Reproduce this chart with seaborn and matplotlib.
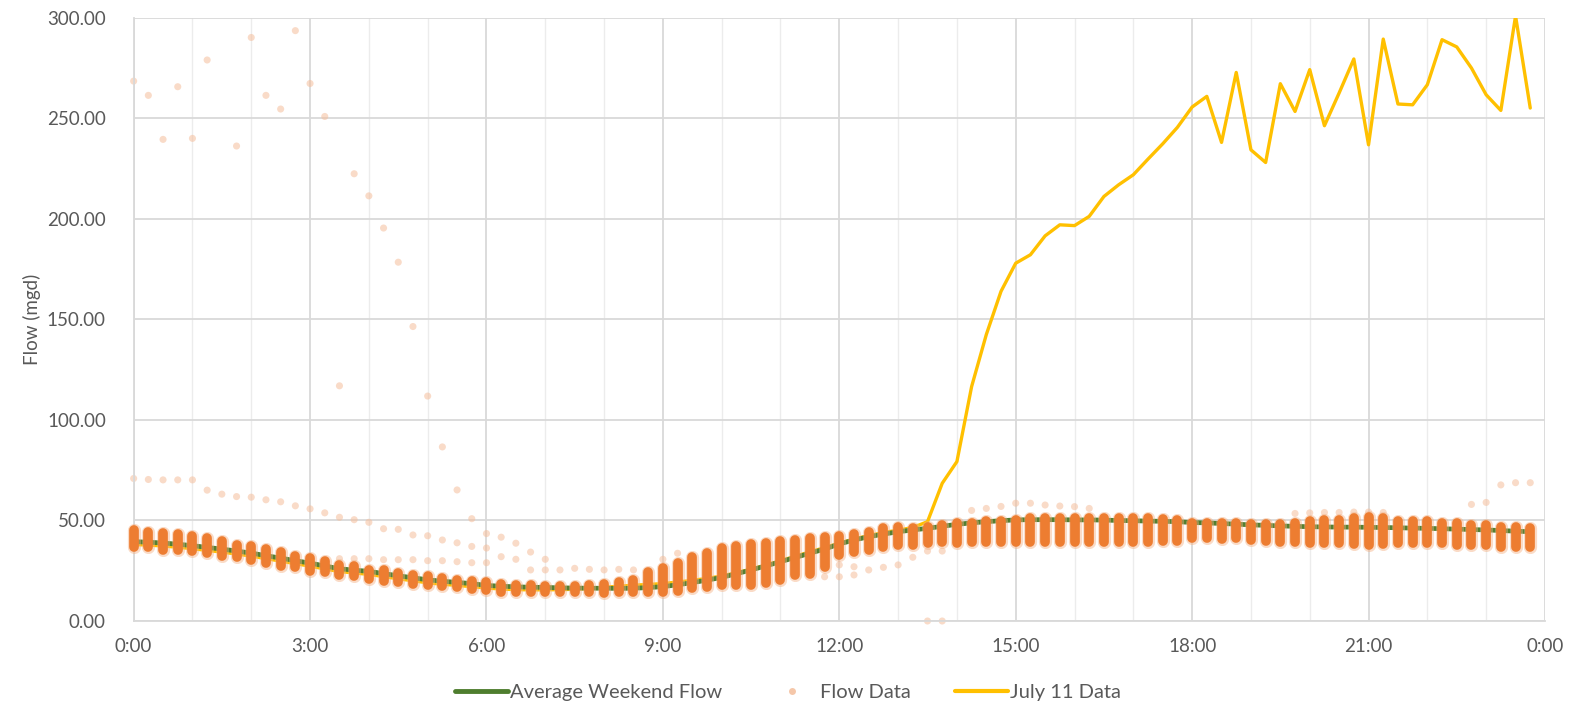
import numpy as np
import pandas as pd
import matplotlib
matplotlib.use("Agg")
import matplotlib.pyplot as plt
from matplotlib.lines import Line2D
import seaborn as sns

# ---------------- data ----------------
# 15-minute time slots (hours after midnight)
slot_hours = [i / 4 for i in range(96)]

x_tick_hours = [0, 3, 6, 9, 12, 15, 18, 21, 24]
x_tick_labels = ["0:00", "3:00", "6:00", "9:00", "12:00", "15:00", "18:00", "21:00", "0:00"]
y_ticks = [0, 50, 100, 150, 200, 250, 300]

avg_weekend_flow = [
    39.5, 39.2, 38.8, 38.2, 37.5, 36.6, 35.8, 34.8, 33.8, 32.5, 31.3, 30.0,
    28.8, 27.4, 26.0, 25.3, 24.7, 23.6, 22.5, 21.5, 20.5, 19.8, 19.2, 18.6,
    17.7, 17.3, 17.0, 16.8, 16.7, 16.5, 16.4, 16.3, 16.3, 16.2, 16.3, 16.6,
    17.1, 18.0, 19.1, 20.3, 21.7, 23.5, 25.4, 27.4, 29.5, 31.6, 33.7, 35.8,
    38.3, 40.3, 41.9, 43.2, 44.4, 45.3, 46.1, 47.1, 48.1, 48.8, 49.4, 49.9,
    50.3, 50.4, 50.4, 50.4, 50.3, 50.3, 50.2, 50.0, 49.9, 49.7, 49.6, 49.4,
    49.0, 48.8, 48.5, 48.2, 47.8, 47.6, 47.3, 47.1, 46.9, 46.8, 46.7, 46.7,
    46.6, 46.5, 46.4, 46.2, 46.1, 45.9, 45.7, 45.5, 45.3, 45.0, 44.7, 44.4,
]

july11_flow = [
    38.0, 37.8, 37.3, 36.7, 36.0, 35.1, 34.3, 33.3, 32.3, 31.0, 29.8, 28.5,
    27.3, 25.9, 24.6, 23.9, 23.2, 22.1, 21.0, 20.0, 19.0, 18.3, 17.7, 17.1,
    16.4, 15.9, 15.6, 15.5, 15.5, 15.6, 15.8, 16.2, 16.8, 17.3, 17.8, 18.2,
    18.6, 19.4, 20.2, 21.2, 22.4, 24.0, 25.8, 27.8, 30.0, 32.2, 34.4, 36.5,
    38.7, 40.8, 42.5, 44.0, 45.2, 46.5, 49.4, 68.5, 79.3, 116.6, 142.5, 164.0,
    178.0, 182.2, 191.6, 197.1, 196.7, 201.3, 211.2, 217.0, 222.0, 229.8, 237.4, 245.6,
    255.7, 261.0, 238.1, 272.9, 234.4, 228.1, 267.3, 253.5, 274.3, 246.4, 262.7, 279.6,
    236.9, 289.5, 257.2, 256.8, 266.8, 289.2, 285.6, 275.1, 261.8, 254.0, 301.0, 255.2,
]

# range of the bulk of the daily flow readings in each slot
flow_low = [
    36.9, 36.9, 35.4, 35.4, 34.7, 33.9, 32.2, 31.7, 30.1, 28.9, 27.6, 26.8,
    25.1, 24.3, 22.9, 22.6, 20.9, 20.1, 19.2, 18.4, 17.8, 17.5, 16.7, 15.9,
    15.4, 14.5, 14.2, 14.2, 14.2, 14.2, 14.2, 14.2, 13.7, 14.2, 14.2, 14.5,
    14.5, 14.9, 16.2, 17.0, 17.8, 17.8, 18.1, 19.1, 20.3, 22.8, 23.6, 27.0,
    32.8, 34.2, 35.2, 36.9, 37.7, 37.7, 38.6, 39.4, 38.6, 39.4, 39.4, 39.4,
    39.1, 39.4, 39.2, 39.4, 39.3, 39.4, 39.2, 39.4, 39.5, 39.4, 39.6, 40.0,
    41.1, 41.1, 40.8, 41.1, 40.2, 39.7, 39.4, 39.1, 38.6, 38.6, 38.6, 38.1,
    37.7, 38.1, 38.6, 38.6, 38.6, 38.6, 37.7, 37.7, 37.7, 36.9, 36.9, 36.9,
]
flow_high = [
    45.4, 44.2, 43.9, 43.1, 42.2, 41.4, 39.7, 38.0, 37.2, 35.6, 34.2, 32.2,
    31.1, 29.8, 28.1, 27.3, 25.6, 25.3, 23.9, 23.1, 22.3, 21.5, 20.6, 19.8,
    19.3, 18.4, 17.7, 17.7, 17.2, 17.2, 17.2, 17.7, 18.4, 19.3, 20.5, 24.3,
    26.3, 28.8, 31.6, 33.8, 36.3, 37.1, 38.3, 38.8, 39.6, 40.5, 41.3, 41.6,
    42.2, 43.2, 44.2, 46.5, 47.0, 46.2, 47.0, 47.9, 48.7, 48.7, 49.6, 49.6,
    50.4, 51.2, 51.2, 51.0, 51.2, 51.0, 51.2, 51.0, 51.1, 51.0, 50.8, 50.0,
    48.7, 48.7, 48.7, 48.7, 48.2, 48.2, 48.2, 48.7, 49.6, 50.4, 50.4, 51.2,
    51.5, 51.2, 49.6, 49.6, 49.6, 48.7, 48.7, 47.9, 47.9, 47.0, 47.0, 46.2,
]

# scattered (unusual) flow readings: time in hours, value in mgd
outlier_hours = [
    0, 0.25, 0.5, 0.75, 1.0, 1.25, 1.75, 2.0, 2.25, 2.5, 2.75, 3.0, 3.25, 3.5, 3.75,
    4.0, 4.25, 4.5, 4.75, 5.0, 5.25, 5.5, 5.75, 6.0,
    0, 0.25, 0.5, 0.75, 1.0, 1.25, 1.5, 1.75, 2.0, 2.25, 2.5, 2.75, 3.0, 3.25, 3.5,
    3.75, 4.0, 4.25, 4.5, 4.75, 5.0, 5.25, 5.5, 5.75, 6.0,
    3.5, 3.75, 4.0, 4.25, 4.5, 4.75, 5.0, 5.25, 5.5, 5.75, 6.0,
    6.25, 6.25, 6.5, 6.5, 6.75, 6.75, 7.0, 7.0, 7.25, 7.5, 7.75, 8.0, 8.25, 8.5, 9.0, 9.25,
    11.75, 12.0, 12.0, 12.25, 12.25, 12.5, 12.75, 13.0, 13.25, 13.5, 13.75, 13.5, 13.75,
    14.25, 14.5, 14.75, 15.0, 15.25, 15.5, 15.75, 16.0, 16.25,
    19.75, 20.0, 20.25, 20.5, 20.75, 21.0, 21.25,
    22.75, 23.0, 23.25, 23.5, 23.75,
]
outlier_values = [
    268.6, 261.5, 239.6, 265.8, 240.1, 279.1, 236.3, 290.3, 261.5, 254.7, 293.7, 267.4, 251.0, 117.0, 222.5,
    211.5, 195.5, 178.5, 146.5, 111.9, 86.6, 65.2, 50.9, 43.5,
    70.9, 70.4, 70.2, 70.2, 70.2, 65.1, 63.1, 61.9, 61.6, 60.3, 59.3, 57.3, 55.8, 53.8, 51.6,
    50.4, 49.1, 45.9, 45.6, 42.8, 42.4, 40.3, 38.9, 37.1, 36.3,
    31.0, 31.0, 31.0, 30.5, 30.5, 30.5, 30.0, 30.0, 29.5, 29.0, 29.0,
    41.7, 32.0, 38.7, 30.7, 34.3, 25.4, 30.7, 25.4, 25.4, 26.2, 25.7, 25.4, 25.7, 25.4, 30.7, 33.7,
    22.0, 27.9, 22.0, 27.0, 22.9, 25.4, 26.7, 27.9, 31.7, 34.8, 34.8, 0.0, 0.0,
    55.0, 56.0, 57.0, 58.6, 58.6, 57.7, 57.2, 56.9, 56.0,
    53.5, 53.8, 54.0, 54.0, 54.2, 54.2, 54.0,
    58.0, 59.0, 67.7, 68.8, 68.8,
]

# ---------------- style ----------------
sns.set_theme(style="white")
plt.rcParams["font.family"] = ["Lato", "DejaVu Sans"]
text_color = "#595959"
grid_major = "#D9D9D9"
grid_minor = "#ECECEC"
green = "#4E7D2E"
orange = "#ED7D31"
pale_orange = "#F4B183"
yellow = "#FFC000"

fig = plt.figure(figsize=(15.76, 7.19), dpi=100)
ax = fig.add_axes([0.0848, 0.1363, 0.8955, 0.8387])

df_line = pd.DataFrame({"hour": slot_hours, "avg": avg_weekend_flow, "july": july11_flow})
df_out = pd.DataFrame({"hour": outlier_hours, "flow": outlier_values})

# scattered flow readings
sns.scatterplot(data=df_out, x="hour", y="flow", ax=ax, color="#F5BE9C", alpha=0.55,
                s=26, edgecolor="none", zorder=2, legend=False, clip_on=False)

# July 11 data (under the average line and the readings)
sns.lineplot(data=df_line, x="hour", y="july", ax=ax, color=yellow, lw=2.4, zorder=3, legend=False)
# average weekend flow
sns.lineplot(data=df_line, x="hour", y="avg", ax=ax, color=green, lw=3.4, zorder=3.5, legend=False)

# dense flow-data columns (many overlapping daily readings per slot)
halo = ax.vlines(slot_hours, flow_low, flow_high, colors=pale_orange, lw=9.5, alpha=0.45, zorder=4)
halo.set_capstyle("round")
halo.set_clip_on(False)
core = ax.vlines(slot_hours, flow_low, flow_high, colors=orange, lw=7.0, zorder=4.5)
core.set_capstyle("round")
core.set_clip_on(False)

# ---------------- axes ----------------
ax.set_xlim(0, 24)
ax.set_ylim(0, 300)
ax.set_xticks(x_tick_hours)
ax.set_xticklabels(x_tick_labels)
ax.set_xticks(list(range(25)), minor=True)
ax.set_yticks(y_ticks)
ax.set_yticklabels([f"{v:.2f}" for v in y_ticks])
ax.grid(True, which="major", color=grid_major, lw=1.3, zorder=0)
ax.grid(True, which="minor", axis="x", color=grid_minor, lw=1.0, zorder=0)
ax.set_axisbelow(True)
ax.tick_params(axis="both", which="both", length=0, colors=text_color, labelsize=13.5)
ax.tick_params(axis="x", pad=12)
ax.tick_params(axis="y", pad=20)
for side in ["top", "right"]:
    ax.spines[side].set_visible(False)
for side in ["left", "bottom"]:
    ax.spines[side].set_color(grid_major)
    ax.spines[side].set_linewidth(1.3)
ax.set_xlabel("")
ax.set_ylabel("Flow (mgd)", color=text_color, fontsize=13.5, labelpad=4)

handles = [
    Line2D([0], [0], color=green, lw=3.5),
    Line2D([0], [0], marker="o", color="none", markerfacecolor="#F5C7A9", markeredgecolor="none", markersize=5),
    Line2D([0], [0], color=yellow, lw=3.0),
]
labels = ["Average Weekend Flow", "Flow Data", "July 11 Data"]
leg = fig.legend(handles, labels, loc="lower center", bbox_to_anchor=(0.5, 0.0), ncol=3,
                 frameon=False, fontsize=14.5, handlelength=2.6, handletextpad=0.1, columnspacing=2.2)
for t in leg.get_texts():
    t.set_color(text_color)

fig.savefig("out.png", dpi=100)
